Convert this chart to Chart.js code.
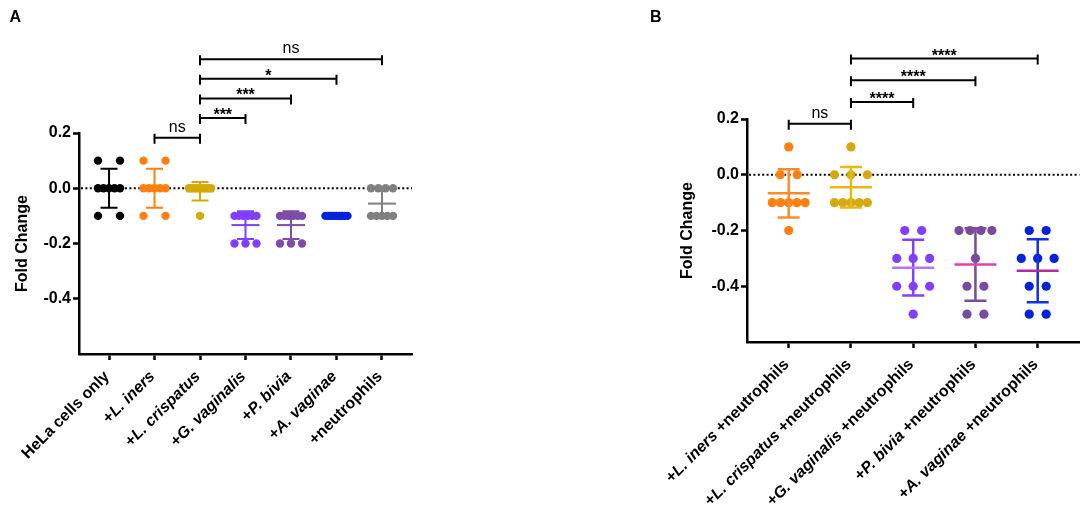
<!DOCTYPE html>
<html><head><meta charset="utf-8">
<script src="https://cdn.jsdelivr.net/npm/chart.js@4.4.1/dist/chart.umd.min.js"></script>
<style>
html,body{margin:0;padding:0;background:#fff;width:1084px;height:514px;overflow:hidden}
.box{position:absolute;top:0;height:514px;width:542px}
#boxA{left:0}
#boxB{left:542px}
</style></head><body>
<div id="boxA" class="box"><canvas id="cA"></canvas></div>
<div id="boxB" class="box"><canvas id="cB"></canvas></div>
<script>
// ---------- Panel A data ----------
const categoriesA = ['HeLa cells only','+L. iners','+L. crispatus','+G. vaginalis','+P. bivia','+A. vaginae','+neutrophils'];
const helaOnlyA    = [0.1,0.1,0,0,0,0,0,-0.1,-0.1];
const lInersA      = [0.1,0.1,0,0,0,0,0,-0.1,-0.1];
const lCrispatusA  = [0,0,0,0,0,0,0,0,-0.1];
const gVaginalisA  = [-0.1,-0.1,-0.1,-0.1,-0.1,-0.1,-0.2,-0.2,-0.2];
const pBiviaA      = [-0.1,-0.1,-0.1,-0.1,-0.1,-0.1,-0.2,-0.2,-0.2];
const aVaginaeA    = [-0.1,-0.1,-0.1,-0.1,-0.1,-0.1,-0.1,-0.1,-0.1];
const neutrophilsA = [0,0,0,0,-0.1,-0.1,-0.1,-0.1,-0.1];
const yTicksA = [0.2,0,-0.2,-0.4];
const comparisonsA = [[1,2,'ns'],[2,3,'***'],[2,4,'***'],[2,5,'*'],[2,6,'ns']];

// ---------- Panel B data ----------
const categoriesB = ['+L. iners +neutrophils','+L. crispatus +neutrophils','+G. vaginalis +neutrophils','+P. bivia +neutrophils','+A. vaginae +neutrophils'];
const lInersB      = [0.1,0,0,-0.1,-0.1,-0.1,-0.1,-0.1,-0.2];
const lCrispatusB  = [0.1,0,0,0,-0.1,-0.1,-0.1,-0.1,-0.1];
const gVaginalisB  = [-0.2,-0.2,-0.3,-0.3,-0.3,-0.4,-0.4,-0.4,-0.5];
const pBiviaB      = [-0.2,-0.2,-0.2,-0.2,-0.3,-0.4,-0.4,-0.5,-0.5];
const aVaginaeB    = [-0.2,-0.2,-0.3,-0.3,-0.3,-0.4,-0.4,-0.5,-0.5];
const yTicksB = [0.2,0,-0.2,-0.4];
const comparisonsB = [[0,1,'ns'],[1,2,'****'],[1,3,'****'],[1,4,'****']];

const italicTerms = ['L. iners','L. crispatus','G. vaginalis','P. bivia','A. vaginae'];
const FONT = '"Liberation Sans", Arial, sans-serif';

function mean(a){return a.reduce((s,v)=>s+v,0)/a.length;}
function sd(a){const m=mean(a);return Math.sqrt(a.reduce((s,v)=>s+(v-m)*(v-m),0)/(a.length-1));}

// horizontal spread of points sharing the same value (column scatter layout)
function spread(values, center, sMax, width){
  const counts={}, seen={};
  values.forEach(v=>{const k=v.toFixed(3);counts[k]=(counts[k]||0)+1;});
  return values.map(v=>{
    const k=v.toFixed(3), n=counts[k];
    const idx = seen[k] = (seen[k]===undefined?0:seen[k]+1);
    const s = n>1 ? Math.min(sMax, width/(n-1)) : 0;
    return {x: center + (idx-(n-1)/2)*s, y: v};
  });
}

function splitLabel(label){
  for(const t of italicTerms){
    const p = label.indexOf(t);
    if(p>=0) return [[label.slice(0,p),false],[t,true],[label.slice(p+t.length),false]].filter(s=>s[0].length);
  }
  return [[label,false]];
}

const dotPlot = {
  id:'dotPlot',
  beforeDatasetsDraw(chart, args, o){
    const {ctx, chartArea, scales:{y}} = chart;
    const py = y.getPixelForValue(0);
    ctx.save();
    ctx.strokeStyle='#000'; ctx.lineWidth=2; ctx.setLineDash([2,2.4]);
    ctx.beginPath(); ctx.moveTo(chartArea.left+2, py); ctx.lineTo(chartArea.right, py); ctx.stroke();
    ctx.restore();
  },
  afterDatasetsDraw(chart, args, o){
    const {ctx, chartArea, scales:{x,y}} = chart;
    ctx.save();
    // error bars (mean ± SD)
    o.groups.forEach((vals,i)=>{
      const m=mean(vals), s=sd(vals);
      const px=x.getPixelForValue(i);
      const yt=y.getPixelForValue(m+s), yb=y.getPixelForValue(m-s), ym=y.getPixelForValue(m);
      ctx.strokeStyle=o.barColors[i]; ctx.lineWidth=o.barWidth; ctx.lineCap='butt';
      ctx.beginPath();
      if(s>0){
        ctx.moveTo(px,yt); ctx.lineTo(px,yb);
        ctx.moveTo(px-o.capW/2,yt); ctx.lineTo(px+o.capW/2,yt);
        ctx.moveTo(px-o.capW/2,yb); ctx.lineTo(px+o.capW/2,yb);
      }
      ctx.stroke();
      ctx.strokeStyle=o.meanColors[i];
      ctx.beginPath(); ctx.moveTo(px-o.meanW/2,ym); ctx.lineTo(px+o.meanW/2,ym); ctx.stroke();
    });
    // significance brackets
    ctx.strokeStyle='#000'; ctx.fillStyle='#000'; ctx.lineWidth=2;
    o.comparisons.forEach((c,k)=>{
      const py=y.getPixelForValue(o.bracketBase+k*o.bracketStep);
      const x1=x.getPixelForValue(c[0]), x2=x.getPixelForValue(c[1]);
      ctx.beginPath();
      ctx.moveTo(x1,py); ctx.lineTo(x2,py);
      ctx.moveTo(x1,py-4); ctx.lineTo(x1,py+6);
      ctx.moveTo(x2,py-4); ctx.lineTo(x2,py+6);
      ctx.stroke();
      ctx.textAlign='center'; ctx.textBaseline='alphabetic';
      if(c[2]==='ns'){ ctx.font='16px '+FONT; ctx.fillText(c[2],(x1+x2)/2,py-6); }
      else { ctx.font='bold 16px '+FONT; ctx.fillText(c[2],(x1+x2)/2,py+2); }
    });
    // category labels (rotated, species names in italics)
    o.categories.forEach((lab,i)=>{
      const segs=splitLabel(lab);
      const px=x.getPixelForValue(i)-2, py=chartArea.bottom+20;
      ctx.save();
      ctx.translate(px,py); ctx.rotate(-Math.PI/4);
      ctx.textBaseline='middle'; ctx.textAlign='left'; ctx.fillStyle='#000';
      let total=0;
      segs.forEach(s=>{ctx.font=(s[1]?'italic ':'')+'bold 16px '+FONT; total+=ctx.measureText(s[0]).width;});
      let cx=-total;
      segs.forEach(s=>{ctx.font=(s[1]?'italic ':'')+'bold 16px '+FONT; ctx.fillText(s[0],cx,0); cx+=ctx.measureText(s[0]).width;});
      ctx.restore();
    });
    // panel letter
    ctx.font='bold 16px '+FONT; ctx.textAlign='left'; ctx.textBaseline='alphabetic'; ctx.fillStyle='#000';
    ctx.fillText(o.letter,o.letterX,o.letterY);
    ctx.restore();
  }
};

function build(id, cfg){
  const n=cfg.categories.length;
  const datasets=cfg.groups.map((vals,i)=>({
    data: spread(vals,i,cfg.sMax,cfg.sWidth),
    backgroundColor: cfg.colors[i], borderWidth:0,
    pointRadius: cfg.radius, pointHoverRadius: cfg.radius
  }));
  const axisGrid={drawOnChartArea:false, drawTicks:true, tickLength:6, tickWidth:2.5, tickColor:'#000'};
  const border={display:true, color:'#000', width:2.5};
  return new Chart(document.getElementById(id),{
    type:'scatter',
    data:{datasets},
    options:{
      responsive:true, maintainAspectRatio:false, animation:false, events:[],
      layout:{padding:cfg.padding},
      plugins:{legend:{display:false}, tooltip:{enabled:false},
        dotPlot:{groups:cfg.groups, barColors:cfg.barColors, meanColors:cfg.meanColors,
          capW:cfg.capW, meanW:cfg.meanW, barWidth:cfg.barWidth,
          comparisons:cfg.comparisons, bracketBase:cfg.bracketBase, bracketStep:cfg.bracketStep,
          categories:cfg.categories, letter:cfg.letter, letterX:cfg.letterX, letterY:cfg.letterY}},
      scales:{
        x:{type:'linear', min:-cfg.xPad, max:n-1+cfg.xPad,
          afterBuildTicks:s=>{s.ticks=cfg.categories.map((c,i)=>({value:i}));},
          afterFit:s=>{s.height=10;},
          ticks:{display:false}, grid:axisGrid, border},
        y:{type:'linear', min:-0.6, max:0.2,
          afterBuildTicks:s=>{s.ticks=cfg.yTicks.map(v=>({value:v}));},
          afterFit:s=>{s.width=cfg.yWidth;},
          ticks:{color:'#000', padding:2, font:{family:FONT, size:16, weight:'bold'}, callback:v=>Number(v).toFixed(1)},
          grid:axisGrid, border,
          title:{display:true, text:'Fold Change', color:'#000', font:{family:FONT, size:16, weight:'bold'}, padding:{top:cfg.titlePad, bottom:0}}}
      }
    },
    plugins:[dotPlot]
  });
}

build('cA',{
  categories:categoriesA,
  groups:[helaOnlyA,lInersA,lCrispatusA,gVaginalisA,pBiviaA,aVaginaeA,neutrophilsA],
  colors:['#000000','#FF7F0F','#D4AA00','#7F3FFF','#7E4CA8','#0022DD','#808080'],
  barColors:['#000000','#FF7F0F','#D4AA00','#7F3FFF','#7E4CA8','#0022DD','#808080'],
  meanColors:['#000000','#FF7F0F','#D4AA00','#7F3FFF','#7E4CA8','#0022DD','#808080'],
  yTicks:yTicksA, comparisons:comparisonsA, bracketBase:0.183, bracketStep:0.071,
  sMax:0.484, sWidth:0.484, radius:4.2, capW:17, meanW:28, barWidth:2,
  xPad:0.66, yWidth:79, titlePad:13,
  padding:{left:0, top:133, right:130, bottom:150},
  letter:'A', letterX:9.5, letterY:21.7
});

build('cB',{
  categories:categoriesB,
  groups:[lInersB,lCrispatusB,gVaginalisB,pBiviaB,aVaginaeB],
  colors:['#FF7F0F','#D4AA10','#8040FF','#7A4A9E','#0022DD'],
  barColors:['#FF8A2A','#E8B810','#8040FF','#7A4A9E','#1030E0'],
  meanColors:['#FF8A2A','#E8B810','#B374FF','#E040B0','#B02CA0'],
  yTicks:yTicksB, comparisons:comparisonsB, bracketBase:0.183, bracketStep:0.078,
  sMax:0.272, sWidth:0.528, radius:4.6, capW:22, meanW:42, barWidth:2.5,
  xPad:0.67, yWidth:82, titlePad:13,
  padding:{left:123, top:119, right:3, bottom:162},
  letter:'B', letterX:108, letterY:21.7
});
</script>
</body></html>
